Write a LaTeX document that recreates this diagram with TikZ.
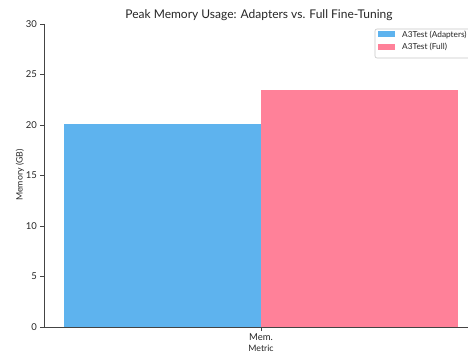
\documentclass[tikz,border=0pt]{standalone}
\usepackage{fontspec}
\setmainfont{Lato}
\usetikzlibrary{calc,positioning}
\definecolor{adaptblue}{HTML}{5EB3EE}
\definecolor{fullpink}{HTML}{FF8199}
\definecolor{axisgray}{HTML}{444444}

\begin{document}
\begin{tikzpicture}[x=1pt,y=1pt,
    tick/.style={draw=axisgray,line width=0.6pt},
    ticklabel/.style={font=\fontsize{9.5}{10}\selectfont,text=black!85,inner sep=0pt},
    axlabel/.style={font=\fontsize{8.8}{9}\selectfont,text=black!85,inner sep=0pt},
    legtext/.style={font=\fontsize{8.3}{9}\selectfont,text=black!85,inner sep=0pt,anchor=west}]
       \useasboundingbox (0,0) rectangle (468,356);
       \coordinate (O) at (44,29);
       \coordinate (T) at (44,332);
       \coordinate (R) at (470,29);
       % bars
       \fill[adaptblue] (64,29) rectangle (261,232) coordinate (adapt);
       \fill[fullpink] (261,29) rectangle (458,266.4) coordinate (full);
       % axes
       \draw[axisgray,line width=0.8pt] (T) -- (O) -- (R);
       \foreach \v in {0,5,...,30} {
         \draw[tick] ($(O)+(0,\v*10.1)$) -- ++(-4,0);
         \node[ticklabel,anchor=east] (y\v) at ($(O)+(-7,\v*10.1)$) {\v};
       }
       \draw[tick] (261,29) -- (261,25);
       \node[ticklabel,anchor=north] (mem) at (261,22.5) {Mem.};
       \node[axlabel,anchor=north] (xlab) at (261,11.5) {Metric};
       \node[axlabel,rotate=90] (ylab) at (20,181) {Memory (GB)};
       \node[font=\fontsize{12}{13}\selectfont,text=black!85] (title) at (259,341) {Peak Memory Usage: Adapters vs. Full Fine-Tuning};
       % legend
       \filldraw[draw=black!22,fill=white,rounded corners=2pt,line width=0.6pt] (375,298) rectangle (480,327);
       \fill[adaptblue] (378,318.5) rectangle (395,324.5);
       \node[legtext] (leg1) at (402,321.5) {A3Test (Adapters)};
       \fill[fullpink] (378,306) rectangle (395,312);
       \node[legtext] (leg2) at (402,309) {A3Test (Full)};
     \end{tikzpicture}
\end{document}
